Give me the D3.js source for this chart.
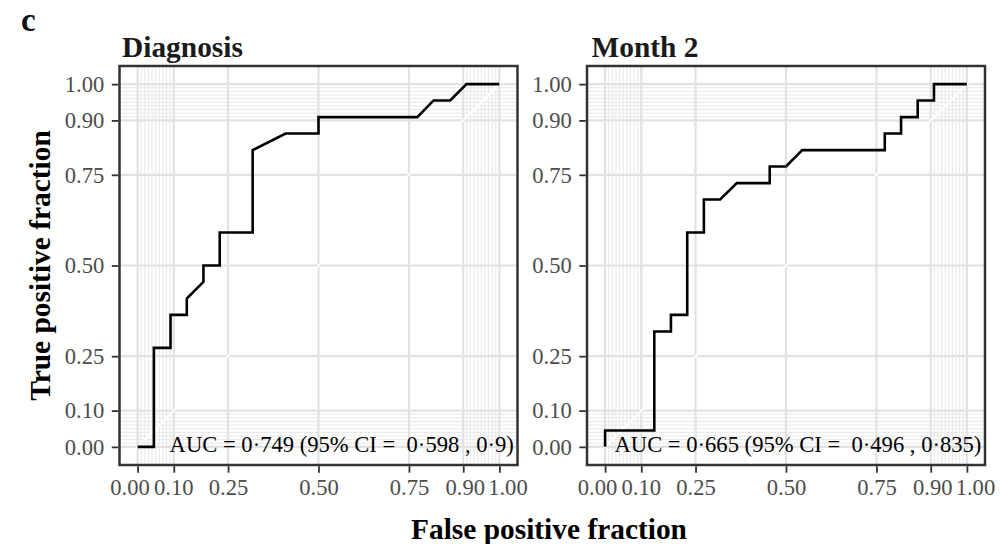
<!DOCTYPE html>
<html><head><meta charset="utf-8">
<script src="https://cdn.jsdelivr.net/npm/d3@7"></script>
<style>body{margin:0;background:#fff} svg{display:block}</style>
</head><body>
<svg id="c" width="1000" height="544"></svg>
<script>
// ---- data ----
const panelTitles = ["Diagnosis", "Month 2"];
const fpfDiagnosis = [0, 0.045, 0.045, 0.091, 0.091, 0.136, 0.136, 0.182, 0.182, 0.227, 0.227, 0.318, 0.318, 0.409, 0.5, 0.5, 0.773, 0.818, 0.864, 0.909, 1];
const tpfDiagnosis = [0, 0, 0.273, 0.273, 0.364, 0.364, 0.409, 0.455, 0.5, 0.5, 0.591, 0.591, 0.818, 0.864, 0.864, 0.909, 0.909, 0.955, 0.955, 1, 1];
const fpfMonth2 = [0, 0, 0.136, 0.136, 0.182, 0.182, 0.227, 0.227, 0.273, 0.273, 0.318, 0.364, 0.455, 0.455, 0.5, 0.545, 0.773, 0.773, 0.818, 0.818, 0.864, 0.864, 0.909, 0.909, 1];
const tpfMonth2 = [0, 0.045, 0.045, 0.318, 0.318, 0.364, 0.364, 0.591, 0.591, 0.682, 0.682, 0.727, 0.727, 0.773, 0.773, 0.818, 0.818, 0.864, 0.864, 0.909, 0.909, 0.955, 0.955, 1, 1];
const aucLabels = ["AUC = 0\u00b7749 (95% CI =  0\u00b7598 , 0\u00b79)", "AUC = 0\u00b7665 (95% CI =  0\u00b7496 , 0\u00b7835)"];
const majorBreaks = [0, 0.1, 0.25, 0.5, 0.75, 0.9, 1];
const majorLabels = ["0.00", "0.10", "0.25", "0.50", "0.75", "0.90", "1.00"];
const minorBreaks = [0, 0.01, 0.02, 0.03, 0.04, 0.05, 0.06, 0.07, 0.08, 0.09, 0.1,
                     0.9, 0.91, 0.92, 0.93, 0.94, 0.95, 0.96, 0.97, 0.98, 0.99, 1];
const panelLabel = "c";
const xTitle = "False positive fraction";
const yTitle = "True positive fraction";

const series = [
  {fpf: fpfDiagnosis, tpf: tpfDiagnosis},
  {fpf: fpfMonth2, tpf: tpfMonth2}
];

// ---- layout ----
const svg = d3.select("#c");
const FONT = "'Liberation Serif', 'Times New Roman', serif";
const panelLefts = [119.5, 587];
const panelW = 398, panelTop = 66, panelH = 399;
// horizontal nudges (px) of x tick labels, as in the reference
const xLabelNudge = [-8, -0.5, 0, 0, 0, 1.5, 8];

const y = d3.scaleLinear().domain([-0.05, 1.05]).range([panelTop + panelH, panelTop]);

svg.append("text").attr("x", 21).attr("y", 31)
  .attr("font-family", FONT).attr("font-weight", "bold").attr("font-size", 33)
  .attr("fill", "#111").text(panelLabel);

series.forEach((s, i) => {
  const L = panelLefts[i];
  const x = d3.scaleLinear().domain([-0.05, 1.05]).range([L, L + panelW]);
  const g = svg.append("g");
  const clipId = "clip" + i;
  svg.append("clipPath").attr("id", clipId).append("rect")
    .attr("x", L).attr("y", panelTop).attr("width", panelW).attr("height", panelH);

  const pg = g.append("g").attr("clip-path", `url(#${clipId})`);
  pg.append("rect").attr("x", L).attr("y", panelTop).attr("width", panelW).attr("height", panelH).attr("fill", "#fff");

  // minor grid
  pg.selectAll(".mv").data(minorBreaks).join("line")
    .attr("x1", d => x(d)).attr("x2", d => x(d)).attr("y1", panelTop).attr("y2", panelTop + panelH)
    .attr("stroke", "#e8e8e8").attr("stroke-width", 1);
  pg.selectAll(".mh").data(minorBreaks).join("line")
    .attr("y1", d => y(d)).attr("y2", d => y(d)).attr("x1", L).attr("x2", L + panelW)
    .attr("stroke", "#e8e8e8").attr("stroke-width", 1);
  // major grid
  pg.selectAll(".Mv").data(majorBreaks).join("line")
    .attr("x1", d => x(d)).attr("x2", d => x(d)).attr("y1", panelTop).attr("y2", panelTop + panelH)
    .attr("stroke", "#e2e2e2").attr("stroke-width", 2.2);
  pg.selectAll(".Mh").data(majorBreaks).join("line")
    .attr("y1", d => y(d)).attr("y2", d => y(d)).attr("x1", L).attr("x2", L + panelW)
    .attr("stroke", "#e2e2e2").attr("stroke-width", 2.2);
  // diagonal guide
  pg.append("line").attr("x1", x(-0.05)).attr("y1", y(-0.05)).attr("x2", x(1.05)).attr("y2", y(1.05))
    .attr("stroke", "#fff").attr("stroke-width", 2);

  // ROC curve
  const pts = s.fpf.map((f, k) => [f, s.tpf[k]]);
  pg.append("path").datum(pts)
    .attr("d", d3.line().x(d => x(d[0])).y(d => y(d[1])))
    .attr("fill", "none").attr("stroke", "#000").attr("stroke-width", 2.6)
    .attr("stroke-linejoin", "miter");

  // AUC label
  pg.append("text").attr("x", x(1.04)).attr("y", y(0) + 5.5)
    .attr("text-anchor", "end").attr("font-family", FONT).attr("font-size", 22.6)
    .attr("fill", "#000").style("white-space", "pre").text(aucLabels[i]);

  // border
  g.append("rect").attr("x", L).attr("y", panelTop).attr("width", panelW).attr("height", panelH)
    .attr("fill", "none").attr("stroke", "#333").attr("stroke-width", 2.5);

  // axes
  const xAxis = d3.axisBottom(x).tickValues(majorBreaks).tickFormat((d, k) => majorLabels[k])
    .tickSize(6.5).tickPadding(6);
  const xa = g.append("g").attr("transform", `translate(0,${panelTop + panelH + 1.2})`).call(xAxis);
  const yAxis = d3.axisLeft(y).tickValues(majorBreaks).tickFormat((d, k) => majorLabels[k])
    .tickSize(6.5).tickPadding(7.5);
  const ya = g.append("g").attr("transform", `translate(${L - 1.2},0)`).call(yAxis);
  [xa, ya].forEach(a => {
    a.select(".domain").remove();
    a.selectAll(".tick line").attr("stroke", "#333").attr("stroke-width", 1.8);
    a.selectAll(".tick text").attr("font-family", FONT).attr("font-size", 22.6).attr("fill", "#4d4d4d");
  });
  xa.selectAll(".tick text").attr("dy", "0.71em").attr("dx", (d, k) => xLabelNudge[k]);

  // strip title
  g.append("text").attr("x", L + 2.5 + i * 2).attr("y", 57)
    .attr("font-family", FONT).attr("font-weight", "bold").attr("font-size", 29.4)
    .attr("fill", "#1a1a1a").text(panelTitles[i]);
});

// axis titles
svg.append("text").attr("x", 549).attr("y", 539)
  .attr("text-anchor", "middle").attr("font-family", FONT).attr("font-weight", "bold")
  .attr("font-size", 29.4).attr("fill", "#000").text(xTitle);
svg.append("text").attr("transform", `translate(50,${panelTop + panelH / 2}) rotate(-90)`)
  .attr("text-anchor", "middle").attr("font-family", FONT).attr("font-weight", "bold")
  .attr("font-size", 29.4).attr("fill", "#000").text(yTitle);
</script>
</body></html>
